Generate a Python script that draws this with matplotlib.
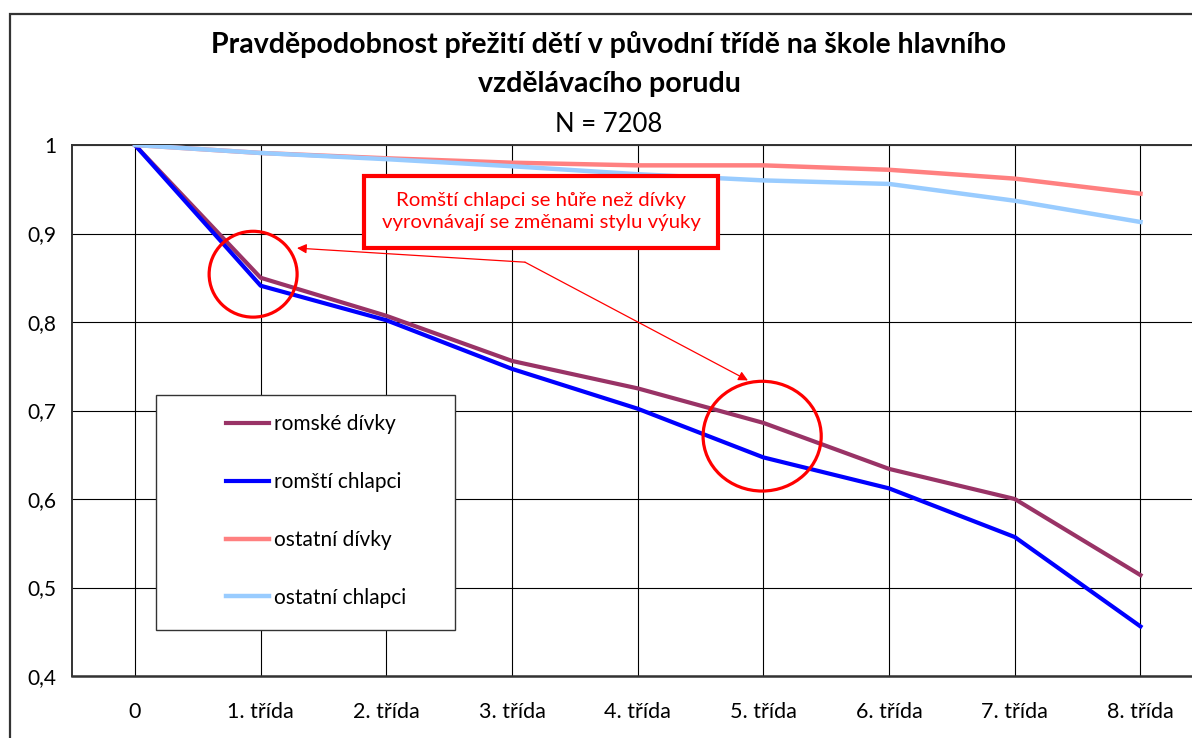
import matplotlib
matplotlib.use('Agg')
import matplotlib.pyplot as plt
import matplotlib.patches as patches

plt.rcParams['font.family'] = ['Lato', 'DejaVu Sans']

# data
categories = ['0', '1. třída', '2. třída', '3. třída', '4. třída',
              '5. třída', '6. třída', '7. třída', '8. třída']
romske_divky = [1.0, 0.850, 0.807, 0.756, 0.725, 0.686, 0.634, 0.600, 0.514]
romsti_chlapci = [1.0, 0.841, 0.802, 0.747, 0.702, 0.647, 0.612, 0.557, 0.456]
ostatni_divky = [1.0, 0.991, 0.985, 0.980, 0.977, 0.977, 0.972, 0.962, 0.945]
ostatni_chlapci = [1.0, 0.991, 0.984, 0.976, 0.967, 0.960, 0.956, 0.937, 0.913]
yticks = [0.4, 0.5, 0.6, 0.7, 0.8, 0.9, 1.0]
ytick_labels = ['0,4', '0,5', '0,6', '0,7', '0,8', '0,9', '1']

W, H = 1192, 738
fig = plt.figure(figsize=(W / 100, H / 100), dpi=100)


def fx(px):
    return px / W


def fy(py):
    return 1 - py / H


# outer chart frame (cut off on the right and bottom)
fig.patches.append(patches.Rectangle((fx(10), fy(760)), fx(1300), fy(14) - fy(760),
                                     transform=fig.transFigure, fill=False,
                                     edgecolor='#333333', lw=1.6, zorder=0))

ax = fig.add_axes([fx(72), fy(676), fx(W - 72), fy(145) - fy(676)])
x = range(len(categories))

ax.plot(x, romske_divky, color='#993366', lw=3.0, label='romské dívky', zorder=3)
ax.plot(x, romsti_chlapci, color='#0000FF', lw=3.0, label='romští chlapci', zorder=3)
ax.plot(x, ostatni_divky, color='#FF8080', lw=3.2, label='ostatní dívky', zorder=3)
ax.plot(x, ostatni_chlapci, color='#99CCFF', lw=3.2, label='ostatní chlapci', zorder=3)

ax.set_xlim(-0.501, 8.41)
ax.set_ylim(0.4, 1.0)
ax.set_xticks(list(x))
ax.set_xticklabels(categories, fontsize=15.5)
ax.set_yticks(yticks)
ax.set_yticklabels(ytick_labels, fontsize=15)
ax.tick_params(length=0)
ax.tick_params(axis='y', pad=11)
ax.tick_params(axis='x', pad=19)
ax.grid(True, color='black', lw=0.8)
ax.set_axisbelow(True)
for s in ['top', 'left']:
    ax.spines[s].set_color('#333333')
    ax.spines[s].set_linewidth(1.4)
ax.spines['bottom'].set_color('#333333')
ax.spines['bottom'].set_linewidth(1.8)
ax.spines['right'].set_visible(False)

# legend frame drawn separately so it can be wider than its content
ax.add_patch(patches.Rectangle((fx(156), fy(630)), fx(455) - fx(156), fy(395) - fy(630),
                               transform=fig.transFigure, facecolor='white',
                               edgecolor='#333333', lw=1.0, zorder=4))
leg = ax.legend(loc='upper left', bbox_to_anchor=(fx(226), fy(414)),
                bbox_transform=fig.transFigure, frameon=False, fontsize=15,
                handlelength=2.05, handletextpad=0.25, labelspacing=1.82,
                borderpad=0, borderaxespad=0)
leg.set_zorder(5)

# annotation: circles, text box and arrows
red = '#FF0000'
ax.add_patch(patches.Ellipse((0.94, 0.854), 0.70, 0.097, fill=False,
                             edgecolor=red, lw=2.3, zorder=6))
ax.add_patch(patches.Ellipse((4.99, 0.671), 0.94, 0.124, fill=False,
                             edgecolor=red, lw=2.3, zorder=6))
ax.add_patch(patches.Rectangle((1.822, 0.8835), 2.816, 0.0815, facecolor='white',
                               edgecolor=red, lw=3.0, zorder=6))
ax.text(3.23, 0.925, 'Romští chlapci se hůře než dívky\nvyrovnávají se změnami stylu výuky',
        color=red, fontsize=14.7, ha='center', va='center', linespacing=1.4, zorder=7)
for tip in [(1.289, 0.8835), (4.877, 0.734)]:
    ax.annotate('', xy=tip, xytext=(3.103, 0.8676), zorder=6,
                arrowprops=dict(arrowstyle='-|>', color=red, lw=0.9,
                                mutation_scale=14, shrinkA=0, shrinkB=0))

# titles
fig.text(fx(609), fy(45), 'Pravděpodobnost přežití dětí v původní třídě na škole hlavního',
         ha='center', va='center', fontsize=20.5, fontweight='bold')
fig.text(fx(609), fy(84), 'vzdělávacího porudu',
         ha='center', va='center', fontsize=20.5, fontweight='bold')
fig.text(fx(609), fy(124), 'N = 7208', ha='center', va='center', fontsize=18.5)

fig.savefig('out.png', dpi=100)
